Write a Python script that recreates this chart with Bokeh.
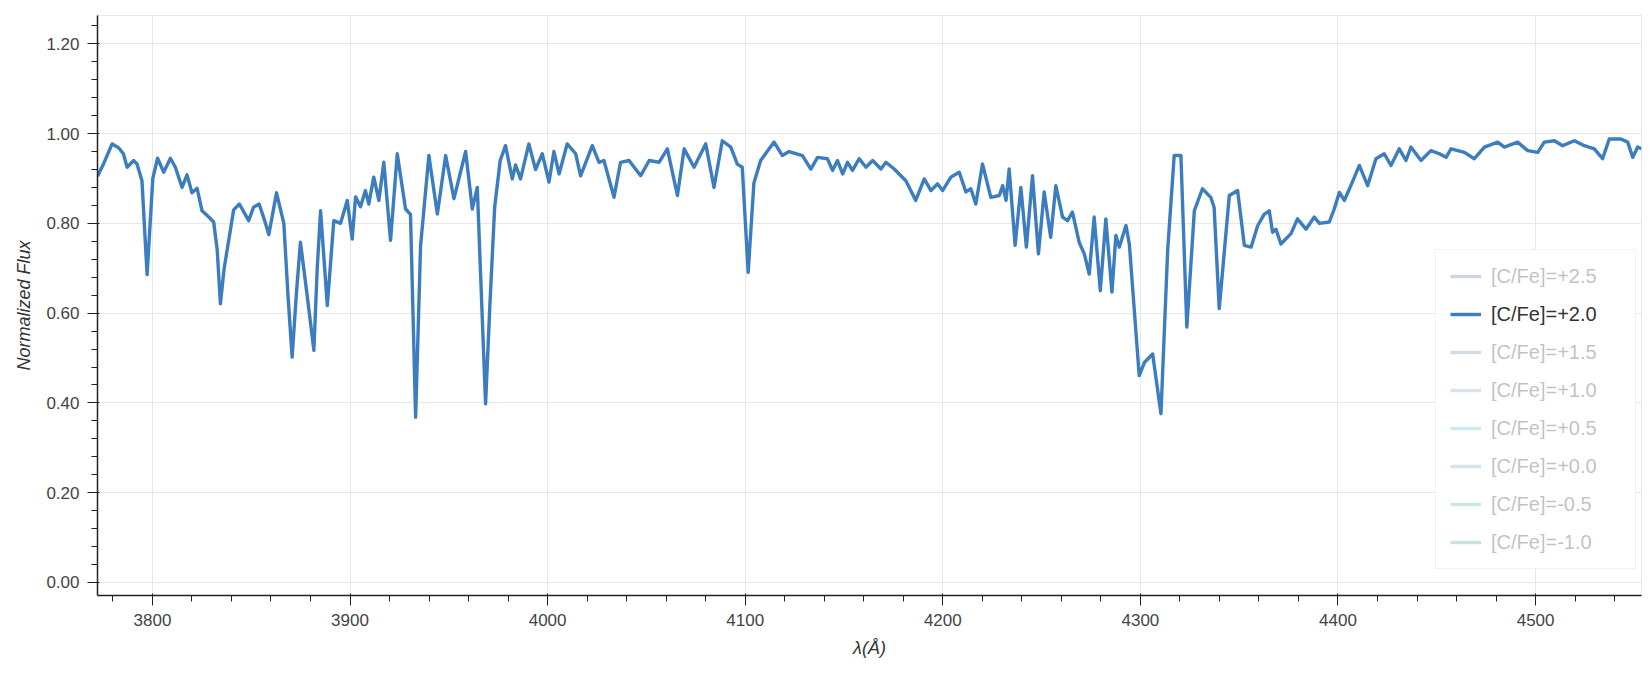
from bokeh.plotting import figure
from bokeh.models import (Range1d, SingleIntervalTicker, Legend, LegendItem,
                          NumeralTickFormatter, ColumnDataSource)
from bokeh.embed import file_html
from bokeh.resources import INLINE

# Synthetic spectrum for [C/Fe]=+2.0: wavelength (Angstrom) and normalized flux
wavelength = [
    3772.2, 3775.3, 3779.6, 3783.0, 3785.3, 3787.2, 3790.5, 3792.2, 3794.7, 3797.3,
    3800.2, 3802.6, 3805.7, 3809.1, 3811.6, 3815.0, 3817.5, 3820.0, 3822.6, 3825.1,
    3828.5, 3831.0, 3832.8, 3834.4, 3836.3, 3838.6, 3841.1, 3844.0, 3848.7, 3851.2,
    3854.0, 3856.5, 3858.9, 3862.8, 3866.5, 3868.6, 3870.7, 3872.8, 3874.9, 3878.3,
    3881.7, 3883.4, 3885.1, 3888.5, 3891.8, 3895.2, 3898.6, 3901.1, 3902.8, 3905.3,
    3907.8, 3909.5, 3912.0, 3914.6, 3917.1, 3920.5, 3923.9, 3928.1, 3930.6, 3933.2,
    3935.7, 3939.9, 3944.2, 3948.4, 3952.6, 3958.5, 3961.9, 3964.4, 3968.6, 3970.8,
    3973.2, 3976.0, 3978.7, 3982.1, 3983.8, 3986.3, 3990.5, 3993.9, 3997.3, 4000.7,
    4003.2, 4005.8, 4009.9, 4014.2, 4016.7, 4022.6, 4026.0, 4028.5, 4033.6, 4036.9,
    4041.2, 4047.1, 4051.4, 4056.4, 4060.6, 4065.7, 4069.1, 4074.1, 4080.0, 4084.2,
    4088.4, 4092.7, 4096.0, 4098.5, 4101.5, 4104.4, 4107.8, 4114.6, 4118.8, 4122.2,
    4129.0, 4133.2, 4136.6, 4141.6, 4144.2, 4146.7, 4149.3, 4151.8, 4154.3, 4157.7,
    4161.1, 4164.5, 4168.7, 4171.2, 4175.4, 4181.3, 4186.3, 4190.6, 4194.0, 4197.3,
    4199.9, 4204.1, 4208.3, 4211.7, 4214.2, 4216.7, 4220.1, 4224.3, 4228.6, 4230.3,
    4232.0, 4233.6, 4236.6, 4239.5, 4242.3, 4245.4, 4248.4, 4251.3, 4254.6, 4257.2,
    4260.6, 4263.1, 4265.6, 4269.0, 4271.6, 4274.1, 4276.6, 4279.7, 4282.5, 4285.6,
    4287.6, 4289.3, 4292.7, 4294.4, 4299.4, 4302.0, 4306.2, 4310.4, 4313.8, 4317.1,
    4320.5, 4323.5, 4327.3, 4331.4, 4335.6, 4337.3, 4339.9, 4345.0, 4349.2, 4352.6,
    4356.0, 4359.3, 4362.6, 4365.2, 4366.9, 4368.6, 4371.1, 4376.2, 4379.5, 4383.8,
    4388.0, 4390.6, 4395.6, 4398.1, 4400.7, 4403.2, 4406.5, 4410.8, 4415.0, 4419.2,
    4423.4, 4426.8, 4431.0, 4434.4, 4436.9, 4442.0, 4447.0, 4451.3, 4454.7, 4457.2,
    4464.0, 4469.0, 4474.1, 4480.8, 4484.2, 4490.9, 4496.0, 4501.1, 4504.4, 4509.5,
    4513.7, 4519.6, 4524.7, 4529.7, 4533.9, 4537.3, 4543.2, 4546.6, 4549.2, 4551.7,
    4553.6,
]
flux = [
    0.905, 0.933, 0.977, 0.968, 0.955, 0.925, 0.940, 0.932, 0.895, 0.686,
    0.900, 0.945, 0.914, 0.945, 0.925, 0.880, 0.908, 0.868, 0.878, 0.828,
    0.814, 0.803, 0.740, 0.621, 0.700, 0.762, 0.830, 0.843, 0.806, 0.836,
    0.843, 0.810, 0.775, 0.868, 0.800, 0.640, 0.502, 0.640, 0.758, 0.640,
    0.517, 0.700, 0.828, 0.617, 0.806, 0.800, 0.851, 0.765, 0.859, 0.837,
    0.873, 0.843, 0.903, 0.851, 0.936, 0.762, 0.955, 0.832, 0.820, 0.368,
    0.750, 0.951, 0.821, 0.951, 0.855, 0.960, 0.832, 0.880, 0.398, 0.620,
    0.836, 0.940, 0.973, 0.899, 0.930, 0.899, 0.977, 0.920, 0.955, 0.892,
    0.960, 0.910, 0.977, 0.955, 0.906, 0.973, 0.936, 0.940, 0.858, 0.936,
    0.940, 0.906, 0.940, 0.936, 0.966, 0.862, 0.966, 0.925, 0.977, 0.880,
    0.984, 0.970, 0.932, 0.925, 0.691, 0.890, 0.940, 0.981, 0.951, 0.960,
    0.951, 0.921, 0.947, 0.944, 0.918, 0.940, 0.910, 0.936, 0.918, 0.944,
    0.925, 0.940, 0.921, 0.936, 0.921, 0.895, 0.851, 0.899, 0.873, 0.888,
    0.873, 0.903, 0.914, 0.870, 0.877, 0.843, 0.932, 0.858, 0.862, 0.884,
    0.851, 0.921, 0.751, 0.880, 0.747, 0.906, 0.732, 0.870, 0.769, 0.884,
    0.814, 0.806, 0.825, 0.758, 0.732, 0.687, 0.814, 0.650, 0.810, 0.647,
    0.773, 0.747, 0.795, 0.754, 0.461, 0.490, 0.509, 0.376, 0.740, 0.951,
    0.951, 0.569, 0.828, 0.877, 0.858, 0.836, 0.610, 0.862, 0.873, 0.751,
    0.747, 0.794, 0.820, 0.828, 0.780, 0.787, 0.754, 0.777, 0.810, 0.787,
    0.814, 0.800, 0.803, 0.832, 0.869, 0.851, 0.884, 0.929, 0.884, 0.944,
    0.955, 0.929, 0.966, 0.940, 0.970, 0.940, 0.962, 0.955, 0.947, 0.966,
    0.958, 0.944, 0.970, 0.981, 0.970, 0.981, 0.962, 0.958, 0.981, 0.984,
    0.973, 0.984, 0.973, 0.966, 0.944, 0.988, 0.988, 0.981, 0.947, 0.970,
    0.966,
]

# Carbon enhancement grid listed in the legend; only one model is switched on
series_labels = ["[C/Fe]=+2.5", "[C/Fe]=+2.0", "[C/Fe]=+1.5", "[C/Fe]=+1.0",
                 "[C/Fe]=+0.5", "[C/Fe]=+0.0", "[C/Fe]=-0.5", "[C/Fe]=-1.0"]
series_colors = ["#5868a8", "#3b7dbf", "#6a84a6", "#7f9fbd",
                 "#63b4be", "#6aa8c6", "#5aaa9e", "#4f9f8a"]
active_label = "[C/Fe]=+2.0"

FONT = "Liberation Sans"

p = figure(width=1649, height=678, output_backend="svg", toolbar_location=None,
           x_range=Range1d(3772.2, 4553.6), y_range=Range1d(-0.029, 1.263),
           min_border_left=97, min_border_right=8, min_border_top=15,
           min_border_bottom=83,
           x_axis_label="λ(Å)", y_axis_label="Normalized Flux")
p.background_fill_color = "white"
p.border_fill_color = "white"
p.outline_line_color = "#e5e5e5"

p.xaxis.ticker = SingleIntervalTicker(interval=100, num_minor_ticks=5)
p.yaxis.ticker = SingleIntervalTicker(interval=0.2, num_minor_ticks=5)
p.xgrid.ticker = p.xaxis.ticker
p.ygrid.ticker = p.yaxis.ticker
p.yaxis.formatter = NumeralTickFormatter(format="0.00")

for ax in (p.xaxis, p.yaxis):
    ax.major_label_text_font = FONT
    ax.major_label_text_font_size = "17px"
    ax.major_label_text_color = "#444444"
    ax.axis_label_text_font = FONT
    ax.axis_label_text_font_size = "18px"
    ax.axis_label_text_font_style = "italic"
    ax.axis_label_text_color = "#333333"
    ax.axis_line_color = "#222222"
    ax.axis_line_width = 1.5
    ax.major_tick_line_color = "#222222"
    ax.minor_tick_line_color = "#222222"
    ax.major_tick_out = 10
    ax.major_tick_in = 2
    ax.minor_tick_out = 6
    ax.minor_tick_in = 0
    ax.major_label_standoff = 8
    ax.axis_label_standoff = 9

p.grid.grid_line_color = "#e8e8e8"

items = []
for label, color in zip(series_labels, series_colors):
    if label == active_label:
        src = ColumnDataSource(dict(x=wavelength, y=flux))
        r = p.line("x", "y", source=src, line_color=color, line_width=3.4,
                   line_join="round")
    else:
        # switched-off models: placeholder source, only the legend entry shows
        src = ColumnDataSource(dict(x=[float("nan")], y=[float("nan")]))
        r = p.line("x", "y", source=src, line_color=color, line_width=3.4,
                   visible=False)
    items.append(LegendItem(label=label, renderers=[r]))

legend = Legend(items=items, location=(1338, 26), margin=0, padding=14,
                spacing=14, glyph_width=31, glyph_height=24, label_height=24,
                label_width=130, label_standoff=10, label_text_font=FONT,
                label_text_font_size="20px", label_text_color="#333333",
                border_line_color="#e5e5e5", background_fill_alpha=0.95,
                click_policy="hide")
p.add_layout(legend)

open("out.html", "w").write(file_html(p, INLINE))
